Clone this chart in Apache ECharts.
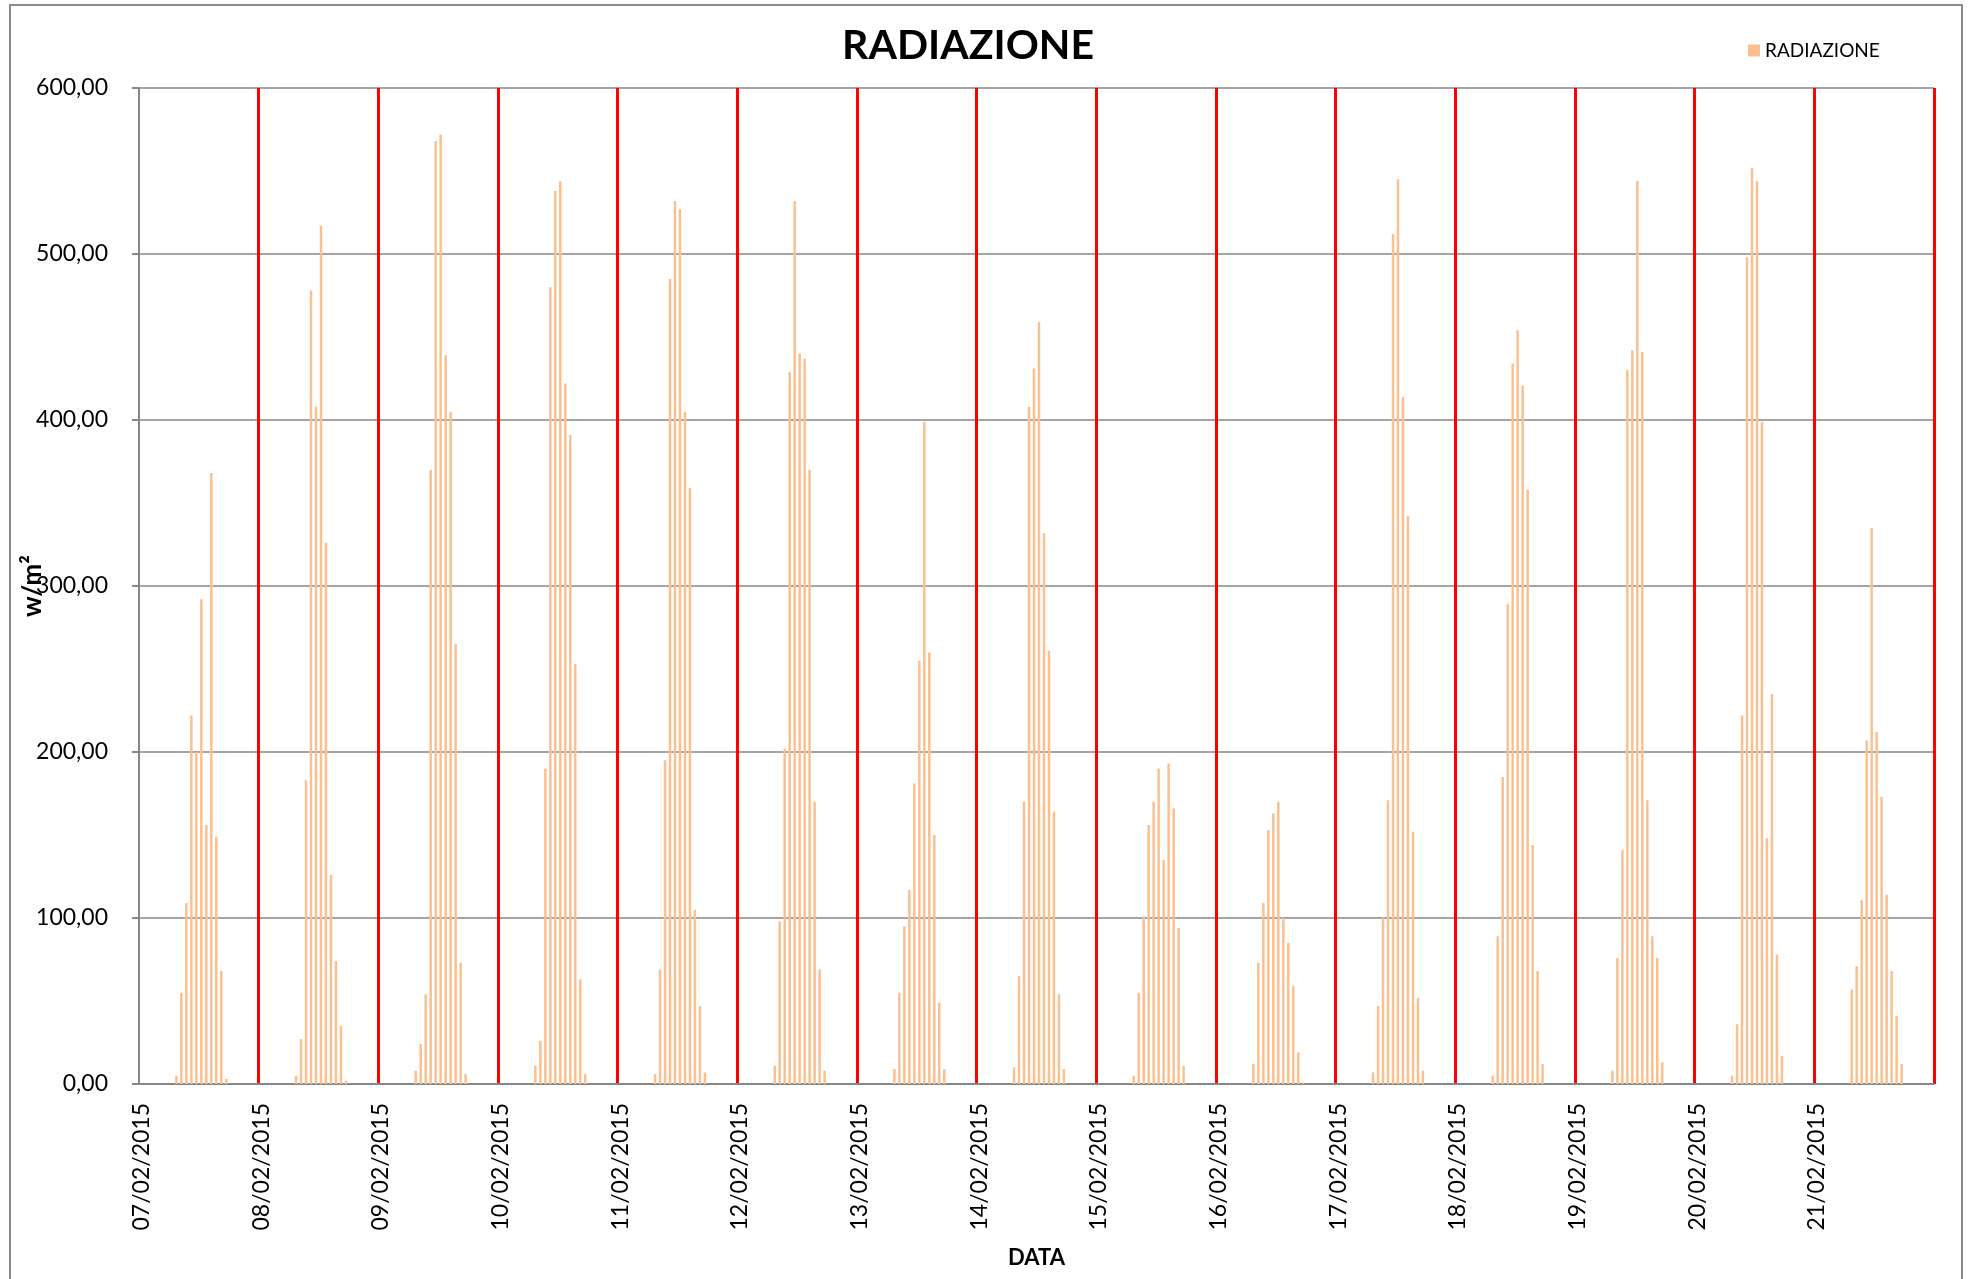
<!DOCTYPE html>
<html>
<head>
<meta charset="utf-8">
<script src="https://cdn.jsdelivr.net/npm/echarts@6/dist/echarts.min.js"></script>
<style>
  html, body { margin: 0; padding: 0; background: #fff; }
</style>
</head>
<body>
<div id="main" style="width: 1968px;height:1279px;"></div>
<script type="text/javascript">
    // giorni del periodo (una etichetta per giorno)
    var giorni = ['07/02/2015', '08/02/2015', '09/02/2015', '10/02/2015', '11/02/2015',
        '12/02/2015', '13/02/2015', '14/02/2015', '15/02/2015', '16/02/2015',
        '17/02/2015', '18/02/2015', '19/02/2015', '20/02/2015', '21/02/2015'];

    // radiazione oraria w/m², ore 0..23
    var rad0702 = [0,0,0,0,0,0,0, 5, 55,109,222,200,292,156,368,149, 68, 3, 0,0,0,0,0,0];
    var rad0802 = [0,0,0,0,0,0,0, 5, 27,183,478,408,517,326,126, 74, 35, 2, 0,0,0,0,0,0];
    var rad0902 = [0,0,0,0,0,0,0, 8, 24, 54,370,568,572,439,405,265, 73, 6, 0,0,0,0,0,0];
    var rad1002 = [0,0,0,0,0,0,0,11, 26,190,480,538,544,422,391,253, 63, 6, 0,0,0,0,0,0];
    var rad1102 = [0,0,0,0,0,0,0, 6, 69,195,485,532,527,405,359,105, 47, 7, 0,0,0,0,0,0];
    var rad1202 = [0,0,0,0,0,0,0,11, 98,202,429,532,440,437,370,170, 69, 8, 0,0,0,0,0,0];
    var rad1302 = [0,0,0,0,0,0,0, 9, 55, 95,117,181,255,399,260,150, 49, 9, 0,0,0,0,0,0];
    var rad1402 = [0,0,0,0,0,0,0,10, 65,170,408,431,459,332,261,164, 54, 9, 0,0,0,0,0,0];
    var rad1502 = [0,0,0,0,0,0,0, 5, 55,101,156,170,190,135,193,166, 94,11, 0,0,0,0,0,0];
    var rad1602 = [0,0,0,0,0,0,0,12, 73,109,153,163,170,100, 85, 59, 19, 1, 0,0,0,0,0,0];
    var rad1702 = [0,0,0,0,0,0,0, 7, 47,100,171,512,545,414,342,152, 52, 8, 0,0,0,0,0,0];
    var rad1802 = [0,0,0,0,0,0,0, 5, 89,185,289,434,454,421,358,144, 68,12, 0,0,0,0,0,0];
    var rad1902 = [0,0,0,0,0,0,0, 8, 76,141,430,442,544,441,171, 89, 76,13, 0,0,0,0,0,0];
    var rad2002 = [0,0,0,0,0,0,0, 5, 36,222,498,552,544,399,148,235, 78,17, 0,0,0,0,0,0];
    var rad2102 = [0,0,0,0,0,0,0,57, 71,111,207,335,212,173,114, 68, 41,12, 0,0,0,0,0,0];

    var perGiorno = [rad0702, rad0802, rad0902, rad1002, rad1102, rad1202, rad1302, rad1402,
        rad1502, rad1602, rad1702, rad1802, rad1902, rad2002, rad2102];

    // categorie orarie "gg/mm/aaaa hh:00" e valori in sequenza
    var categorie = [];
    var valori = [];
    giorni.forEach(function (g, i) {
        perGiorno[i].forEach(function (v, h) {
            categorie.push(g + ' ' + (h < 10 ? '0' + h : h) + ':00');
            valori.push(v);
        });
    });

    var myChart = echarts.init(document.getElementById('main'));

    var font = 'Lato';
    var grigio = '#878787';

    var option = {
        animation: false,
        backgroundColor: '#fff',
        title: {
            text: 'RADIAZIONE',
            left: 963,
            top: 20,
            textAlign: 'center',
            textStyle: {fontFamily: font, fontWeight: 'bold', fontSize: 41, color: '#000'}
        },
        legend: {
            data: ['RADIAZIONE'],
            left: 1743,
            top: 36,
            icon: 'rect',
            itemWidth: 12,
            itemHeight: 12,
            textStyle: {fontFamily: font, fontSize: 19, color: '#000'}
        },
        graphic: [{
            type: 'rect',
            shape: {x: 10, y: 5, width: 1952, height: 1300},
            style: {fill: 'none', stroke: '#8c8c8c', lineWidth: 2},
            silent: true
        }],
        grid: {left: 139, right: 34, top: 88, bottom: 195, outerBoundsMode: 'none'},
        xAxis: {
            type: 'category',
            data: categorie,
            name: 'DATA',
            nameLocation: 'middle',
            nameGap: 163,
            nameMoveOverlap: false,
            nameTextStyle: {fontFamily: font, fontWeight: 'bold', fontSize: 22, color: '#000'},
            axisLine: {lineStyle: {color: grigio, width: 2}},
            axisTick: {interval: 23, length: 8, lineStyle: {color: grigio, width: 2}},
            axisLabel: {
                interval: 23,
                rotate: 90,
                margin: 19,
                fontFamily: font,
                fontSize: 23,
                color: '#000',
                formatter: function (v) { return v.split(' ')[0]; }
            },
            splitLine: {
                show: true,
                interval: 23,
                showMinLine: false,
                lineStyle: {color: '#ff0000', width: 3}
            }
        },
        yAxis: {
            type: 'value',
            min: 0,
            max: 600,
            interval: 100,
            name: 'w/m²',
            nameLocation: 'middle',
            nameGap: 93,
            nameMoveOverlap: false,
            nameTextStyle: {fontFamily: font, fontWeight: 'bold', fontSize: 26, color: '#000'},
            axisLine: {show: true, lineStyle: {color: grigio, width: 2}},
            axisTick: {show: true, length: 7, lineStyle: {color: grigio, width: 2}},
            axisLabel: {
                margin: 31,
                fontFamily: font,
                fontSize: 23,
                color: '#000',
                formatter: function (v) { return v.toFixed(2).replace('.', ','); }
            },
            splitLine: {lineStyle: {color: grigio, width: 1.5}}
        },
        series: [{
            name: 'RADIAZIONE',
            type: 'bar',
            data: valori,
            barWidth: 2.5,
            itemStyle: {color: '#FAC090'}
        }]
    };

    myChart.setOption(option);
</script>
</body>
</html>
